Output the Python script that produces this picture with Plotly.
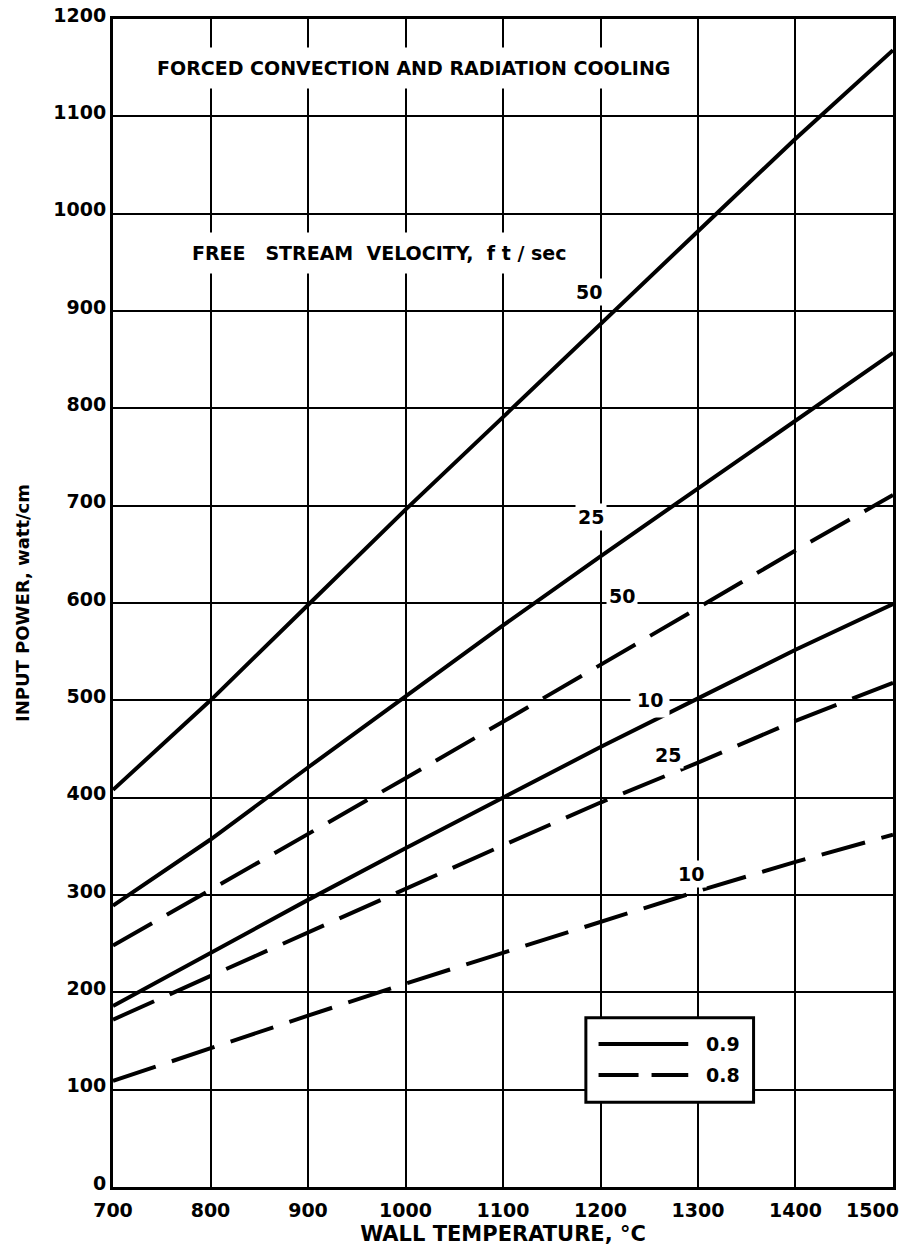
import plotly.graph_objects as go

# ---- data ----
wall_temp = [700, 800, 900, 1000, 1100, 1200, 1300, 1400, 1500]

# emissivity 0.9 (solid)
e09_v50 = [408, 500, 598, 696, 791, 887, 982, 1077, 1168]
e09_v25 = [289, 357, 431, 504, 577, 648, 718, 788, 857]
e09_v10 = [186, 241, 295, 348, 400, 452, 502, 552, 599]

# emissivity 0.8 (dashed)
e08_v50 = [248, 305, 363, 420, 478, 536, 595, 654, 711]
e08_v25 = [172, 217, 262, 306, 351, 395, 436, 479, 518]
e08_v10 = [109, 143, 176, 209, 241, 273, 304, 334, 362]

x_ticks = [700, 800, 900, 1000, 1100, 1200, 1300, 1400, 1500]
x_ticktext = ["700", "800", "900", "1000", "1100", "1200", "1300", "1400", ""]
last_x_label = "1500"   # drawn right-aligned at the plot edge, as in the reference
y_ticks = [0, 100, 200, 300, 400, 500, 600, 700, 800, 900, 1000, 1100, 1200]
y_ticktext = ["0", "100", "200", "300", "400", "500", "600", "700", "800",
              "900", "1000", "1100", "1200"]

series = [
    ("0.9 – 50 ft/sec", e09_v50, "solid"),
    ("0.9 – 25 ft/sec", e09_v25, "solid"),
    ("0.9 – 10 ft/sec", e09_v10, "solid"),
    ("0.8 – 50 ft/sec", e08_v50, "dash"),
    ("0.8 – 25 ft/sec", e08_v25, "dash"),
    ("0.8 – 10 ft/sec", e08_v10, "dash"),
]

FONT = "DejaVu Sans"
DASH = "45px,17px"
NB = "\u00a0"

fig = go.Figure()
for name, vals, style in series:
    fig.add_trace(go.Scatter(
        x=wall_temp, y=vals, mode="lines", name=name,
        line=dict(color="black", width=4, dash=(DASH if style == "dash" else "solid")),
        showlegend=False, hoverinfo="skip",
    ))

tick_font = dict(family=FONT, size=19, color="black", weight="bold")

fig.update_layout(
    width=907, height=1247,
    margin=dict(l=113, r=14, t=19, b=60),
    paper_bgcolor="white", plot_bgcolor="white",
    showlegend=False,
    xaxis=dict(
        range=[699.99, 1500.01], tickvals=x_ticks, ticktext=x_ticktext, ticks="",
        showgrid=True, gridcolor="black", gridwidth=1.6,
        showline=True, linecolor="black", linewidth=3, mirror=True,
        zeroline=False, tickfont=tick_font, ticklabelstandoff=4,
        title=dict(text="WALL TEMPERATURE, °C",
                   font=dict(family=FONT, size=21, color="black", weight="bold"),
                   standoff=7),
        automargin=False,
    ),
    yaxis=dict(
        range=[0, 1200], tickvals=y_ticks, ticktext=y_ticktext, ticks="",
        showgrid=True, gridcolor="black", gridwidth=1.6,
        showline=True, linecolor="black", linewidth=3, mirror=True,
        zeroline=False, tickfont=tick_font, ticklabelshift=-4,
        ticklabeloverflow="allow",
        title=dict(text="INPUT POWER, watt/cm",
                   font=dict(family=FONT, size=18, color="black", weight="bold"),
                   standoff=20),
        automargin=False,
    ),
)

# last x tick label, kept inside the page
fig.add_annotation(xref="x", yref="paper", x=1500, y=0, text=last_x_label,
                   showarrow=False, xanchor="right", yanchor="middle",
                   xshift=8, yshift=-23, font=tick_font)

ann_font = dict(family=FONT, size=19, color="black", weight="bold")
annotations = [
    dict(text="FORCED CONVECTION AND RADIATION COOLING", x=1008, y=1150, borderpad=9),
    dict(text=f"FREE{NB*3}STREAM{NB*2}VELOCITY,{NB*2}f{NB}t{NB}/{NB}sec", x=973, y=960, borderpad=9),
    dict(text="50", x=1188, y=920, borderpad=2),
    dict(text="25", x=1190, y=688, borderpad=2),
    dict(text="50", x=1222, y=607, borderpad=2),
    dict(text="10", x=1251, y=500, borderpad=6),
    dict(text="25", x=1269, y=444, borderpad=2),
    dict(text="10", x=1293, y=322, borderpad=2),
]
for a in annotations:
    fig.add_annotation(xref="x", yref="y", showarrow=False, font=ann_font,
                       bgcolor="white", xanchor="center", yanchor="middle", **a)

# legend inset (key for emissivity)
fig.add_shape(type="rect", xref="x", yref="y", x0=1185, x1=1357, y0=87, y1=174,
              line=dict(color="black", width=3), fillcolor="white", layer="above")
fig.add_shape(type="line", xref="x", yref="y", x0=1198, x1=1290, y0=147, y1=147,
              line=dict(color="black", width=4), layer="above")
fig.add_shape(type="line", xref="x", yref="y", x0=1198, x1=1290, y0=115, y1=115,
              line=dict(color="black", width=4, dash="40px,13px"), layer="above")
fig.add_annotation(xref="x", yref="y", x=1306, y=147, text="0.9", showarrow=False,
                   xanchor="left", yanchor="middle", font=ann_font)
fig.add_annotation(xref="x", yref="y", x=1306, y=115, text="0.8", showarrow=False,
                   xanchor="left", yanchor="middle", font=ann_font)

fig.write_html("out.html")
